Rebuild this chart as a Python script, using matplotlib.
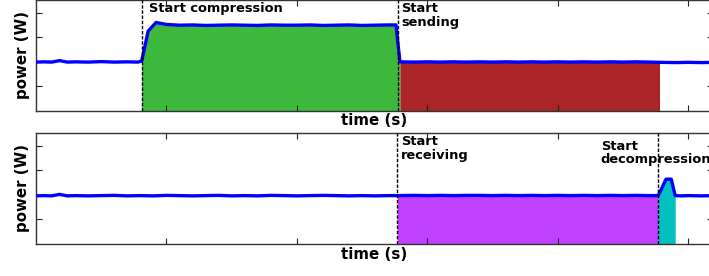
import numpy as np
import matplotlib
matplotlib.use('Agg')
import matplotlib.pyplot as plt

# sender side: idle -> compression -> sending -> idle
t_send = [0.00, 0.06, 0.12, 0.18, 0.24, 0.30, 0.40, 0.50, 0.60, 0.70, 0.78, 0.81,
          0.86, 0.92, 1.00, 1.10, 1.20, 1.30, 1.40, 1.50, 1.60, 1.70, 1.80, 1.90,
          2.00, 2.10, 2.20, 2.30, 2.40, 2.50, 2.60, 2.70, 2.76, 2.79, 2.90, 3.00,
          3.10, 3.20, 3.30, 3.40, 3.50, 3.60, 3.70, 3.80, 3.90, 4.00, 4.10, 4.20,
          4.30, 4.40, 4.50, 4.60, 4.70, 4.78, 4.90, 5.00, 5.10, 5.20]
p_send = [1.98, 1.99, 1.98, 2.04, 1.98, 1.99, 1.98, 2.00, 1.98, 1.99, 1.98, 2.02,
          3.25, 3.60, 3.52, 3.49, 3.50, 3.48, 3.49, 3.50, 3.49, 3.48, 3.50, 3.49,
          3.49, 3.50, 3.48, 3.49, 3.50, 3.48, 3.49, 3.50, 3.50, 1.99, 1.98, 1.99,
          1.98, 1.99, 1.98, 1.99, 1.98, 1.99, 1.98, 1.99, 1.98, 1.99, 1.98, 1.99,
          1.98, 1.99, 1.98, 1.99, 1.98, 1.97, 1.96, 1.97, 1.96, 1.97]

# receiver side: idle -> receiving -> decompression -> idle
t_recv = [0.00, 0.06, 0.12, 0.18, 0.24, 0.30, 0.40, 0.50, 0.60, 0.70, 0.80, 0.90,
          1.00, 1.10, 1.20, 1.30, 1.40, 1.50, 1.60, 1.70, 1.80, 1.90, 2.00, 2.10,
          2.20, 2.30, 2.40, 2.50, 2.60, 2.70, 2.77, 2.90, 3.00, 3.10, 3.20, 3.30,
          3.40, 3.50, 3.60, 3.70, 3.80, 3.90, 4.00, 4.10, 4.20, 4.30, 4.40, 4.50,
          4.60, 4.70, 4.77, 4.80, 4.83, 4.87, 4.90, 4.95, 5.00, 5.10, 5.20]
p_recv = [1.96, 1.97, 1.96, 2.02, 1.96, 1.97, 1.96, 1.97, 1.98, 1.96, 1.97, 1.96,
          1.98, 1.97, 1.96, 1.97, 1.98, 1.96, 1.97, 1.96, 1.98, 1.97, 1.96, 1.97,
          1.98, 1.97, 1.96, 1.97, 1.96, 1.97, 1.97, 1.98, 1.97, 1.98, 1.97, 1.98,
          1.98, 1.97, 1.98, 1.97, 1.98, 1.97, 1.98, 1.97, 1.98, 1.97, 1.98, 1.97,
          1.98, 1.97, 1.97, 2.30, 2.64, 2.64, 1.97, 1.96, 1.97, 1.96, 1.97]

# phase boundaries (s)
t_comp_start = 0.81
t_send_start = 2.775
t_send_end = 4.78
t_recv_start = 2.77
t_decomp_start = 4.77
t_decomp_end = 4.90

phase_colors = {'compression': '#3db83d', 'sending': '#aa2428',
                'receiving': '#c040ff', 'decompression': '#00c0c0'}

plt.rcParams['font.family'] = 'DejaVu Sans'

fig = plt.figure(figsize=(7.09, 2.76), dpi=100)
W, H = 709, 276
# axes run a little past the right edge of the figure, like the cropped original
ax1 = fig.add_axes([36 / W, 1 - 110.5 / H, 677 / W, 110.5 / H])
ax2 = fig.add_axes([36 / W, 1 - 244 / H, 677 / W, 111 / H])


def fill_phase(ax, t, p, a, b, color):
    t = np.array(t)
    p = np.array(p)
    mask = (t >= a - 0.021) & (t <= b + 0.021)
    ax.fill_between(t, 0, p, where=mask, color=color, linewidth=0)


fill_phase(ax1, t_send, p_send, t_comp_start, 2.79, phase_colors['compression'])
fill_phase(ax1, t_send, p_send, 2.79, t_send_end, phase_colors['sending'])
fill_phase(ax2, t_recv, p_recv, t_recv_start, t_decomp_start, phase_colors['receiving'])
fill_phase(ax2, t_recv, p_recv, t_decomp_start, t_decomp_end, phase_colors['decompression'])

ax1.plot(t_send, p_send, color='#0000ff', lw=2.4, zorder=3)
ax2.plot(t_recv, p_recv, color='#0000ff', lw=2.4, zorder=3)

dash = (0, (2.5, 1.2))
ax1.axvline(t_comp_start, color='k', lw=1, ls=dash, zorder=4)
ax1.axvline(t_send_start, color='k', lw=1, ls=dash, zorder=4)
ax2.axvline(t_recv_start, color='k', lw=1, ls=dash, zorder=4)
ax2.axvline(t_decomp_start, color='k', lw=1, ls=dash, zorder=4)

txt = dict(fontsize=9.4, fontweight='bold', va='top', ha='left', linespacing=1.05)
ax1.text(0.87, 4.42, 'Start compression', **txt)
ax1.text(2.80, 4.42, 'Start\nsending', **txt)
ax2.text(2.80, 4.42, 'Start\nreceiving', **txt)
ax2.text(4.33, 4.24, 'Start\ndecompression', **txt)

for ax in (ax1, ax2):
    ax.set_xlim(0, 5.19)
    ax.set_ylim(0, 4.52)
    ax.set_xticks([1, 2, 3, 4, 5])
    ax.set_yticks([1, 2, 3, 4])
    ax.tick_params(direction='in', length=4, width=0.8, top=True, right=True,
                   labelbottom=False, labelleft=False, colors='#222222')
    for s in ax.spines.values():
        s.set_color('#333333')
        s.set_linewidth(1.0)
    ax.set_xlabel('time (s)', fontsize=10.8, fontweight='bold', labelpad=2)
    ax.set_ylabel('power (W)', fontsize=10.8, fontweight='bold', labelpad=4)

fig.savefig('out.png', dpi=100)
